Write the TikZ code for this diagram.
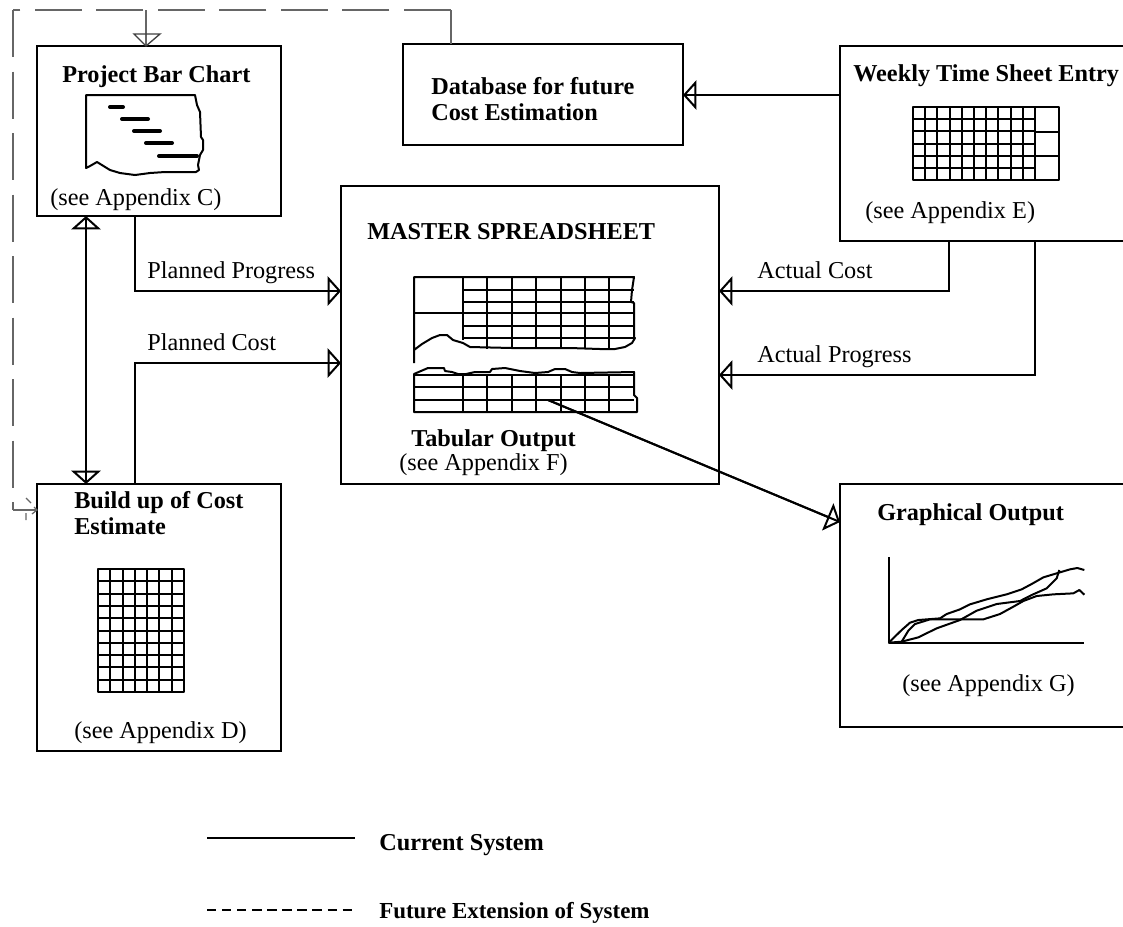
\documentclass[tikz,border=0pt]{standalone}
\usepackage{fontspec}
\setmainfont{Liberation Serif}
\usetikzlibrary{arrows.meta}
\tikzset{
  x=.75pt,y=-.75pt,
  box/.style={draw=black,line width=1.5pt,fill=none,inner sep=0pt,outer sep=0pt,anchor=north west},
  lab/.style={anchor=base west,inner sep=0pt,font=\fontsize{18.2pt}{20pt}\selectfont},
  blab/.style={lab,font=\fontsize{18.2pt}{20pt}\selectfont\bfseries},
  wire/.style={line width=1.5pt,black},
  conn/.style={wire,postaction={draw,-{Triangle[open,fill=none,length=10pt,width=22pt,line width=1.5pt]}}},
  bconn/.style={wire,postaction={draw,{Triangle[open,fill=none,length=10pt,width=22pt,line width=1.5pt]}-{Triangle[open,fill=none,length=10pt,width=22pt,line width=1.5pt]}}},
  fut/.style={line width=.9pt,black!60},
  sketch/.style={line width=1.5pt,black,line join=round},
}
\begin{document}
\begin{tikzpicture}
\useasboundingbox (0,0) rectangle (1123,926);
\fill[white] (0,0) rectangle (1123,926);
% boxes
\node[box,minimum width=183pt,minimum height=127.5pt] (bar) at (37,46) {};
\node[box,minimum width=210pt,minimum height=75.75pt] (db) at (403,44) {};
\node[box,minimum width=220pt,minimum height=146.25pt] (week) at (840,46) {};
\node[box,minimum width=283.5pt,minimum height=223.5pt] (master) at (341,186) {};
\node[box,minimum width=183pt,minimum height=200.25pt] (build) at (37,484) {};
\node[box,minimum width=220pt,minimum height=182.25pt] (graph) at (840,484) {};
% helper coordinates
\coordinate (pp) at (135,291);
\coordinate (pc) at (135,363);
\coordinate (dbl) at (86,300);
\coordinate (ac) at (949,291);
\coordinate (ap) at (1035,375);
\coordinate (wd) at (760,95);
\coordinate (tabstart) at (548,400);
\coordinate (gin) at (840,522);
\coordinate (da) at (451,10);
\coordinate (db2) at (146,10);
\coordinate (dc) at (13,10);
\coordinate (dd) at (13,510);
% connectors
\draw[conn] (bar.south -| pp) |- (master.west |- pp);
\draw[conn] (build.north -| pc) |- (master.west |- pc);
\draw[bconn] (bar.south -| dbl) -- (build.north -| dbl);
\draw[conn] (week.south -| ac) |- (master.east |- ac);
\draw[conn] (week.south -| ap) |- (master.east |- ap);
\draw[conn] (week.west |- wd) -- (db.east |- wd);
\draw[conn] (tabstart) -- (gin);
% future extension
\draw[fut] (db.north -| da) -- (da);
\draw[fut,dash pattern=on 35.25pt off 10.9pt] (da) -- (dc);
\draw[fut,dash pattern=on 35.25pt off 10.9pt] (dc) -- (dd);
\draw[fut] (dd) -- (build.west |- dd);
\draw[fut] (db2) -- (bar.north -| db2);
\draw[fut,line width=1pt,black!75] (134,34) -- (160,34) -- (146,46) -- cycle;
\draw[fut] (26,498) -- (31,503) (26,513) -- (26,520) (32,514) -- (37,510) -- (34,507);
% labels
\node[blab] (t1) at (62,82.5) {Project Bar Chart};
\node[lab] (t2) at (50,205) {(see Appendix C)};
\node[blab] (t3) at (431,94) {Database for future};
\node[blab] (t4) at (431,120) {Cost Estimation};
\node[blab] (t5) at (853,81) {Weekly Time Sheet Entry};
\node[lab] (t6) at (865,218) {(see Appendix E)};
\node[blab] (t7) at (367,239) {MASTER SPREADSHEET};
\node[blab] (t8) at (411,446) {Tabular Output};
\node[lab] (t9) at (399,470) {(see Appendix F)};
\node[blab] (t10) at (877,520.5) {Graphical Output};
\node[lab] (t11) at (902,691) {(see Appendix G)};
\node[blab] (t12) at (74,508.5) {Build up of Cost};
\node[blab] (t13) at (74,534) {Estimate};
\node[lab] (t14) at (74,738) {(see Appendix D)};
\node[lab] (t15) at (147,278) {Planned Progress};
\node[lab] (t16) at (147,350) {Planned Cost};
\node[lab] (t17) at (757,278) {Actual Cost};
\node[lab] (t18) at (757,362) {Actual Progress};
\node[blab] (t19) at (379,850) {Current System};
\node[blab,font=\fontsize{17.2pt}{20pt}\selectfont\bfseries] (t20) at (379,918) {Future Extension of System};
% legend
\coordinate (l1) at (207,838);
\coordinate (l2) at (355,838);
\coordinate (l3) at (207,910);
\coordinate (l4) at (355,910);
\draw[wire] (l1) -- (l2);
\draw[line width=.8pt,dash pattern=on 7pt off 4.3pt] (l3) -- (l4);
% bar chart sketch
\draw[sketch] (86,95) -- (195,95) -- (197,105) -- (200,112) -- (201,137) -- (203,140) -- (203,150) -- (200,155) -- (198,165) -- (199,170) -- (196,172) -- (165,172) -- (150,173) -- (135,175) -- (120,173) -- (110,170) -- (97,162) -- (90,166) -- (86,168) -- cycle;
\draw[line width=3pt,line cap=round] (110,107) -- (123,107) (122,119) -- (148,119) (134,131) -- (160,131) (146,143) -- (172,143) (159,156) -- (197,156);
% master upper table
\draw[sketch] (414,363) -- (414,277) -- (634,277) -- (632,290) -- (631,302) -- (634,303) -- (634,338) -- (635,338) -- (632,343) -- (625,347) -- (615,349) -- (600,349) -- (570,348) -- (512,348) -- (470,347) -- (463,343) -- (453,340) -- (447,335) -- (440,335) -- (432,338) -- (422,344) -- (414,350);
\draw[sketch] (463,277) -- (463,340);
\foreach \xx in {487,512,536,561,585,609} \draw[sketch] (\xx,277) -- (\xx,349);
\foreach \yy in {290,302,326,338} \draw[sketch] (463,\yy) -- (634,\yy);
\draw[sketch] (414,313) -- (634,313);
% master lower table
\draw[sketch] (414,374) -- (428,368) -- (444,368) -- (445,371) -- (452,372) -- (458,374) -- (466,374) -- (475,372) -- (490,372) -- (492,369) -- (505,368) -- (520,371) -- (535,373) -- (548,372) -- (555,369) -- (565,369) -- (572,372) -- (580,373) -- (634,372) -- (634,395) -- (637,398) -- (637,412) -- (414,412) -- cycle;
\foreach \xx in {463,487,512,536,561,585,609} \draw[sketch] (\xx,375) -- (\xx,412);
\foreach \yy in {375,387,400} \draw[sketch] (414,\yy) -- (634,\yy);
% weekly grid
\draw[sketch] (913,107) rectangle (1059,180);
\foreach \i in {1,...,10} \draw[sketch] ({913+\i*12.2},107) -- ({913+\i*12.2},180);
\foreach \i in {1,...,5} \draw[sketch] (913,{107+\i*12.17}) -- (1035,{107+\i*12.17});
\draw[sketch] (1035,132) -- (1059,132) (1035,156) -- (1059,156);
% build grid
\draw[sketch] (98,569) rectangle (184,692);
\foreach \i in {1,...,6} \draw[sketch] ({98+\i*12.29},569) -- ({98+\i*12.29},692);
\foreach \i in {1,...,9} \draw[sketch] (98,{569+\i*12.3}) -- (184,{569+\i*12.3});
% graph
\begin{scope}[shift={(840,500)},x=.25pt,y=-.25pt]
\draw[sketch] (146,172) -- (146,428) -- (733,428);
\draw[sketch] (146,428) -- (185,390) -- (210,368) -- (235,360) -- (300,355) -- (320,342) -- (360,328) -- (390,313) -- (440,298) -- (500,283) -- (545,268) -- (575,252) -- (610,232) -- (650,220) -- (690,208) -- (712,204) -- (733,210);
\draw[sketch] (146,428) -- (185,425) -- (205,392) -- (225,372) -- (270,358) -- (430,358) -- (480,342) -- (520,320) -- (550,303) -- (590,288) -- (640,283) -- (700,280) -- (718,270) -- (733,284);
\draw[sketch] (185,425) -- (235,412) -- (290,385) -- (360,360) -- (410,332) -- (470,312) -- (540,303) -- (575,285) -- (620,265) -- (650,235) -- (658,210);
\end{scope}
\end{tikzpicture}
\end{document}
